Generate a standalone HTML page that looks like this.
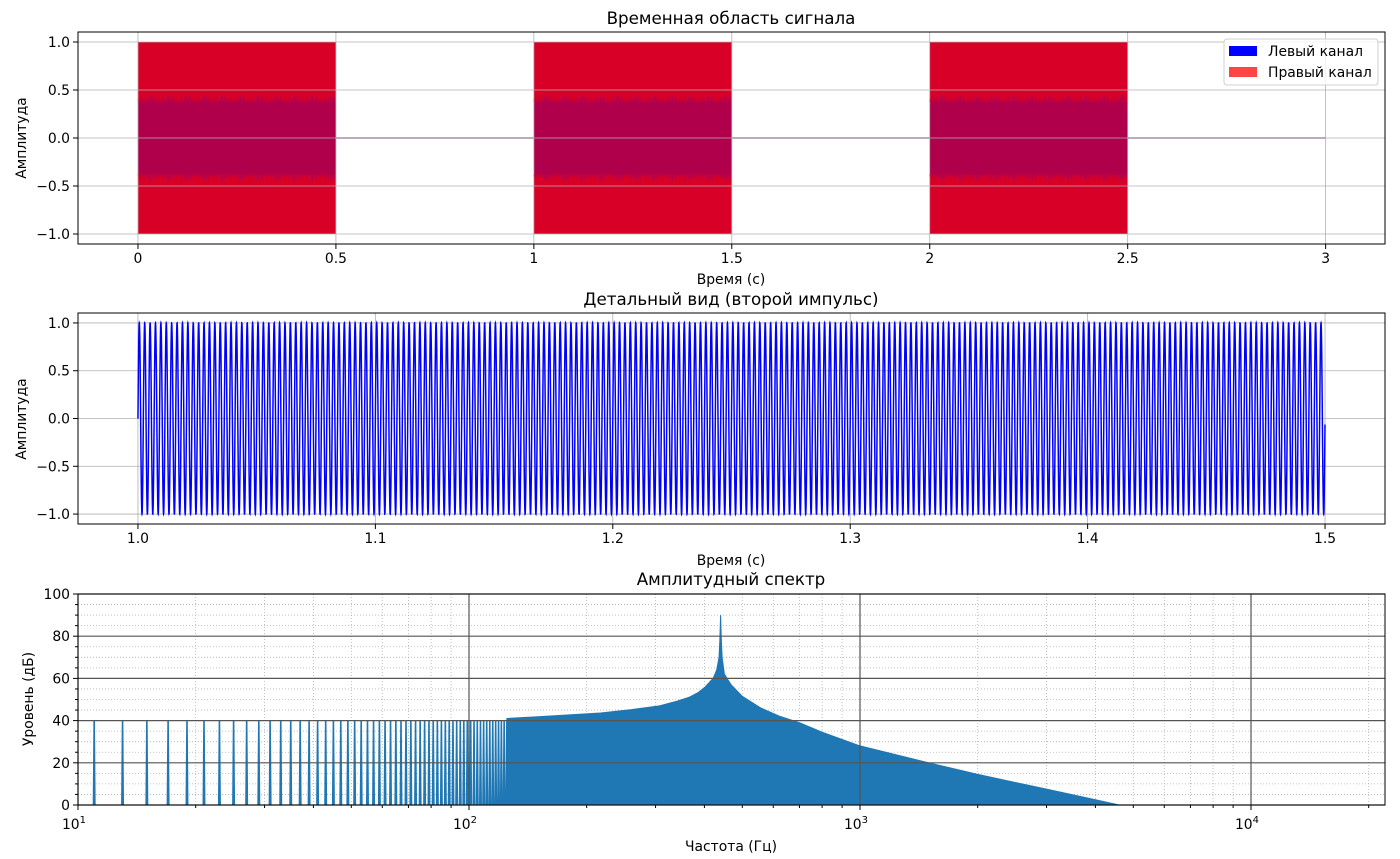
<!DOCTYPE html>
<html><head><meta charset="utf-8">
<style>
body{margin:0;background:#fff;}
svg{display:block;font-family:"DejaVu Sans","Liberation Sans","Noto Sans CJK SC",sans-serif;}
</style></head>
<body>
<svg id="fig" width="1400" height="859" viewBox="0 0 1400 859"></svg>
<script>
// ---- data ----
const pulseStarts = [0, 1, 2];
const pulseDuration = 0.5;
const toneFreq = 440;
const sampleRate = 44100;
const ticks1X = [0, 0.5, 1, 1.5, 2, 2.5, 3];
const ticks1XLabels = ["0","0.5","1","1.5","2","2.5","3"];
const ticksAmp = [1, 0.5, 0, -0.5, -1];
const ticksAmpLabels = ["1.0","0.5","0.0","−0.5","−1.0"];
const ticks2X = [1.0, 1.1, 1.2, 1.3, 1.4, 1.5];
const ticks2XLabels = ["1.0","1.1","1.2","1.3","1.4","1.5"];
const innerBand = 0.38;
const spikeFreqs = [11,13,15,17,19,21,23,25,27,29,31,33,35,37,39,41,43,45,47,49,51,53,55,57,59,61,63,65,67,69,71,73,75,77,79,81,83,85,87,89,91,93,95,97,99,101,103,105,107,109,111,113,115,117,119,121,123,125,127,129];
const spikeLevel = 40;
const envFreqs = [125, 150, 217, 260, 307, 340, 365, 385, 402, 421, 430, 436, 438, 440, 442, 444, 450, 468, 500, 557, 620, 700, 800, 1000, 1500, 2000, 3000, 4000, 4600];
const envDb =    [41, 41.8, 43.6, 45.2, 47, 49.2, 51, 53.2, 56, 60, 64, 70, 78, 90, 78, 70, 62, 57, 51.5, 46, 42.2, 39, 34.5, 28, 20, 14.5, 7.5, 2.5, 0];
const ticks3Y = [0, 20, 40, 60, 80, 100];
const decades = [1, 2, 3, 4];

const NS = "http://www.w3.org/2000/svg";
const svg = document.getElementById('fig');
function el(tag, attrs, parent){const e=document.createElementNS(NS,tag);for(const k in attrs)e.setAttribute(k,attrs[k]);(parent||svg).appendChild(e);return e;}
function txt(s, attrs, parent){const e=el('text',attrs,parent);e.textContent=s;return e;}
const FS=13.9, TS=16.7;
const L=78, R=1385;
// ---------- Plot 1 ----------
const p1={t:32,b:244,x0:-0.1515,x1:3.15,y0:-1.104,y1:1.104};
const x1=v=>L+(v-p1.x0)/(p1.x1-p1.x0)*(R-L);
const y1=v=>p1.b-(v-p1.y0)/(p1.y1-p1.y0)*(p1.b-p1.t);
const g1=el('g',{});


el('line',{x1:x1(0),x2:x1(3),y1:y1(0),y2:y1(0),stroke:'#9a6f9a','stroke-width':1.5},g1);
pulseStarts.forEach((s,i)=>{
  const r=el('rect',{x:x1(s),y:y1(1),width:x1(s+pulseDuration)-x1(s),height:y1(-1)-y1(1),fill:'#d90028'},g1);
  
  
  el('rect',{x:x1(s),y:y1(innerBand),width:x1(s+pulseDuration)-x1(s),height:y1(-innerBand)-y1(innerBand),fill:'#b0004c'},g1);
  let d='';
  for(let k=0;k<110;k++){const xx=x1(s)+k*(x1(s+pulseDuration)-x1(s))/110;const h=2+((k*7)%5);d+=`M${xx} ${y1(innerBand)} v${-h} M${xx} ${y1(-innerBand)} v${h} `;}
  el('path',{d,stroke:'#b0004c','stroke-width':1},g1);
});
function grid(xs, ys, xf, yf, t, b){
  xs.forEach(v=>el('line',{x1:xf(v),x2:xf(v),y1:t,y2:b,stroke:'#b0b0b0','stroke-width':0.8}));
  ys.forEach(v=>el('line',{x1:L,x2:R,y1:yf(v),y2:yf(v),stroke:'#b0b0b0','stroke-width':0.8}));
}
grid(ticks1X,ticksAmp,x1,y1,p1.t,p1.b);
function frame(t,b,name){const r=el('rect',{x:L,y:t,width:R-L,height:b-t,fill:'none',stroke:'#000','stroke-width':1});}
frame(p1.t,p1.b,'plot1-frame');
function xticks(vals,labels,f,b){vals.forEach((v,i)=>{el('line',{x1:f(v),x2:f(v),y1:b,y2:b+5,stroke:'#000'});const t=txt(labels[i],{x:f(v),y:b+19,'font-size':FS,'text-anchor':'middle'});});}
function yticks(vals,labels,f){vals.forEach((v,i)=>{el('line',{x1:L-5,x2:L,y1:f(v),y2:f(v),stroke:'#000'});const t=txt(labels[i],{x:L-8,y:f(v)+5,'font-size':FS,'text-anchor':'end'});});}
xticks(ticks1X,ticks1XLabels,x1,p1.b);
yticks(ticksAmp,ticksAmpLabels,y1);
let t;
t=txt('Временная область сигнала',{x:731,y:24,'font-size':TS,'text-anchor':'middle'});
t=txt('Время (с)',{x:731,y:284,'font-size':FS,'text-anchor':'middle'});
t=txt('Амплитуда',{x:0,y:0,'font-size':FS,'text-anchor':'middle',transform:'translate(26,138) rotate(-90)'});
const lg=el('g',{});


el('rect',{x:1224,y:39,width:154,height:46,rx:3,fill:'#fff','fill-opacity':0.8,stroke:'#d0d0d0'},lg);
el('rect',{x:1229,y:46,width:28,height:10,fill:'#0000ff'},lg);
el('rect',{x:1229,y:67,width:28,height:10,fill:'#ff4444'},lg);
t=txt('Левый канал',{x:1268,y:56,'font-size':FS},lg);
t=txt('Правый канал',{x:1268,y:77,'font-size':FS},lg);

// ---------- Plot 2 ----------
const p2={t:313,b:524,x0:0.97475,x1:1.52525,y0:-1.104,y1:1.104};
const x2=v=>L+(v-p2.x0)/(p2.x1-p2.x0)*(R-L);
const y2=v=>p2.b-(v-p2.y0)/(p2.y1-p2.y0)*(p2.b-p2.t);
grid(ticks2X,ticksAmp,x2,y2,p2.t,p2.b);
let pts=[];
const n=Math.floor(pulseDuration*sampleRate);
for(let i=0;i<n;i++){const tt=i/sampleRate;pts.push(x2(pulseStarts[1]+tt).toFixed(2)+','+y2(Math.sin(2*Math.PI*toneFreq*tt)).toFixed(2));}
const wave=el('polyline',{points:pts.join(' '),fill:'none',stroke:'#0000ff','stroke-width':1.5});


frame(p2.t,p2.b,'plot2-frame');
xticks(ticks2X,ticks2XLabels,x2,p2.b);
yticks(ticksAmp,ticksAmpLabels,y2);
t=txt('Детальный вид (второй импульс)',{x:731,y:305,'font-size':TS,'text-anchor':'middle'});
t=txt('Время (с)',{x:731,y:565,'font-size':FS,'text-anchor':'middle'});
t=txt('Амплитуда',{x:0,y:0,'font-size':FS,'text-anchor':'middle',transform:'translate(26,419) rotate(-90)'});

// ---------- Plot 3 ----------
const p3={t:594,b:805,l0:1,l1:4.3427,y0:0,y1:100};
const x3=f=>L+(Math.log10(f)-p3.l0)/(p3.l1-p3.l0)*(R-L);
const y3=v=>p3.b-(v-p3.y0)/(p3.y1-p3.y0)*(p3.b-p3.t);
for(let d=1;d<=4;d++){for(let m=2;m<=9;m++){const f=m*Math.pow(10,d);if(x3(f)<R){el('line',{x1:x3(f),x2:x3(f),y1:p3.t,y2:p3.b,stroke:'#b0b0b0','stroke-width':0.8,'stroke-dasharray':'1,2'});el('line',{x1:x3(f),x2:x3(f),y1:p3.b,y2:p3.b+3,stroke:'#000'});}}}
for(let v=5;v<100;v+=5){if(v%20){el('line',{x1:L,x2:R,y1:y3(v),y2:y3(v),stroke:'#b0b0b0','stroke-width':0.8,'stroke-dasharray':'1,2'});el('line',{x1:L-3,x2:L,y1:y3(v),y2:y3(v),stroke:'#000'});}}
let sd='';
spikeFreqs.forEach(f=>{sd+=`M${x3(f*0.996)} ${y3(0)} L${x3(f)} ${y3(spikeLevel)} L${x3(f*1.004)} ${y3(0)} `;});
const sp=el('path',{d:sd,fill:'none',stroke:'#1f77b4','stroke-width':1.6});


let ed=`M${x3(envFreqs[0])} ${y3(0)} `;
envFreqs.forEach((f,i)=>{ed+=`L${x3(f)} ${y3(envDb[i])} `;});
ed+=`L${x3(envFreqs[envFreqs.length-1])} ${y3(0)} Z`;
const env=el('path',{d:ed,fill:'#1f77b4',stroke:'#1f77b4','stroke-width':1});


decades.forEach(d=>{el('line',{x1:x3(Math.pow(10,d)),x2:x3(Math.pow(10,d)),y1:p3.t,y2:p3.b,stroke:'#555','stroke-width':1.2});});
ticks3Y.forEach(v=>{el('line',{x1:L,x2:R,y1:y3(v),y2:y3(v),stroke:'#555','stroke-width':1.2});});
frame(p3.t,p3.b,'plot3-frame');
decades.forEach(d=>{const xx=x3(Math.pow(10,d));el('line',{x1:xx,x2:xx,y1:p3.b,y2:p3.b+5,stroke:'#000'});
  const tl=txt('10',{x:xx-4,y:p3.b+24,'font-size':FS,'text-anchor':'middle'});
  
  
  const sup=el('tspan',{dy:-6,'font-size':10},tl);sup.textContent=String(d);});
yticks(ticks3Y,ticks3Y.map(String),y3);
t=txt('Амплитудный спектр',{x:731,y:585,'font-size':TS,'text-anchor':'middle'});
t=txt('Частота (Гц)',{x:731,y:851,'font-size':FS,'text-anchor':'middle'});
t=txt('Уровень (дБ)',{x:0,y:0,'font-size':FS,'text-anchor':'middle',transform:'translate(33,699) rotate(-90)'});
</script>
</body></html>
